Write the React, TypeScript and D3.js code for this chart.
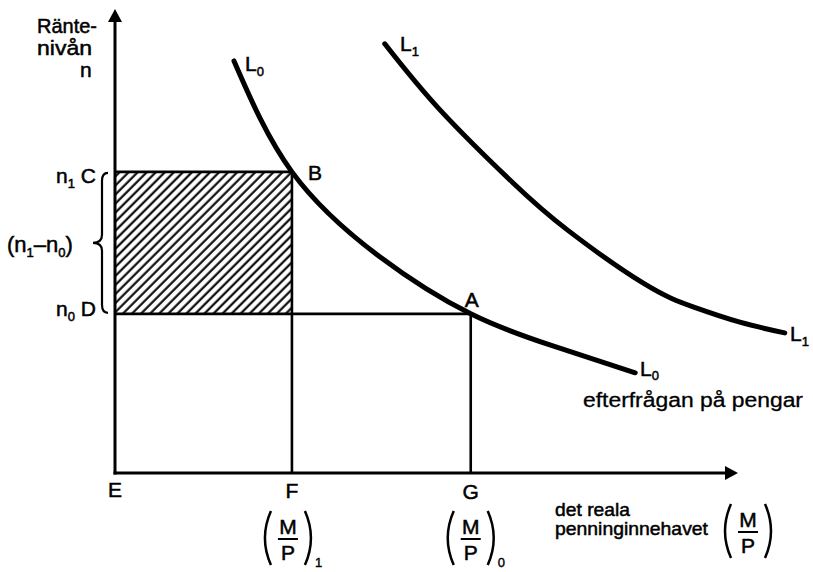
import React from 'react';
import * as d3 from 'd3';

// demand for money curves (x = M/P, y = interest level n)
const L0_CURVE: [number, number][] = [
  [1.91, 8.88], [2.84, 6.49], [4.25, 4.66], [5.71, 3.43], [6.98, 2.76], [8.35, 2.16],
];
const L1_CURVE: [number, number][] = [
  [4.33, 9.25], [5.22, 7.82], [6.39, 6.25], [7.26, 5.24], [8.48, 4.09],
  [9.28, 3.58], [10.03, 3.25], [10.75, 3.02],
];
// interest levels and money holdings
const RATE_LEVELS = { n1: 6.49, n0: 3.43 };
const MONEY_LEVELS = { F: 2.84, G: 5.71 };
const Y_TITLE = ['Ränte-', 'nivån'];
const X_TITLE = ['det reala', 'penninginnehavet'];

const W = 813;
const H = 572;
const FONT = '"Liberation Sans", Arial, sans-serif';

const x = d3.scaleLinear().domain([0, 10]).range([115, 738]);
const y = d3.scaleLinear().domain([0, 10]).range([473, 9]);

const line = d3.line<[number, number]>()
  .x(d => x(d[0]))
  .y(d => y(d[1]))
  .curve(d3.curveNatural);

const Sub = ({ children, dy = 5 }: { children: React.ReactNode; dy?: number }) => (
  <tspan fontSize={13} dy={dy}>{children}</tspan>
);

// (M/P) with tall round brackets, centred on cx
const Fraction = ({ cx, top, sub }: { cx: number; top: number; sub?: string }) => {
  const h = 54;
  const half = 25;
  return (
    <g>
      <path d={`M${cx - half + 8},${top} Q${cx - half - 4},${top + h / 2} ${cx - half + 8},${top + h}`}
        fill="none" stroke="#000" strokeWidth={2.5} />
      <path d={`M${cx + half - 8},${top} Q${cx + half + 4},${top + h / 2} ${cx + half - 8},${top + h}`}
        fill="none" stroke="#000" strokeWidth={2.5} />
      <text x={cx} y={top + 23} textAnchor="middle" fontSize={21} fontFamily={FONT} stroke="#000" strokeWidth={0.5}>M</text>
      <line x1={cx - 10} x2={cx + 10} y1={top + 28} y2={top + 28} stroke="#000" strokeWidth={2} />
      <text x={cx} y={top + 49} textAnchor="middle" fontSize={21} fontFamily={FONT} stroke="#000" strokeWidth={0.5}>P</text>
      {sub && (
        <text x={cx + half + 2} y={top + h + 2} fontSize={13} fontFamily={FONT} stroke="#000" strokeWidth={0.4}>{sub}</text>
      )}
    </g>
  );
};

export default function App() {
  const x0 = x(0);
  const yBase = y(0);
  const yN1 = y(RATE_LEVELS.n1);
  const yN0 = y(RATE_LEVELS.n0);
  const xF = x(MONEY_LEVELS.F);
  const xG = x(MONEY_LEVELS.G);
  const yTop = y(10);
  const xEnd = x(10);
  const mid = (yN1 + yN0) / 2;

  const brace = `M${x0 - 7},${yN1 + 1} Q${x0 - 13},${yN1 + 1} ${x0 - 13},${yN1 + 9} L${x0 - 13},${mid - 8}
    Q${x0 - 13},${mid} ${x0 - 22},${mid} Q${x0 - 13},${mid} ${x0 - 13},${mid + 8}
    L${x0 - 13},${yN0 - 9} Q${x0 - 13},${yN0 - 1} ${x0 - 7},${yN0 - 1}`;

  return (
    <svg width={W} height={H} style={{ position: 'absolute', left: 0, top: 0, background: '#fff' }}>
      <defs>
        <pattern id="hatch" width={6.4} height={10} patternUnits="userSpaceOnUse" patternTransform="rotate(45)">
          <line x1={1.5} y1={0} x2={1.5} y2={10} stroke="#000" strokeWidth={2.1} />
        </pattern>
      </defs>

      {/* hatched area */}
      <rect x={x0} y={yN1} width={xF - x0} height={yN0 - yN1} fill="url(#hatch)" />

      {/* guide lines */}
      <g stroke="#000" strokeWidth={2.6}>
        <line x1={x0} x2={xF} y1={yN1} y2={yN1} />
        <line x1={x0} x2={xG} y1={yN0} y2={yN0} />
        <line x1={xF} x2={xF} y1={yN1} y2={yBase} />
        <line x1={xG} x2={xG} y1={yN0} y2={yBase} />
      </g>

      {/* axes */}
      <g stroke="#000" strokeWidth={3}>
        <line x1={x0} x2={x0} y1={yBase + 1.5} y2={yTop + 8} />
        <line x1={x0 - 1.5} x2={xEnd - 8} y1={yBase} y2={yBase} />
      </g>
      <path d={`M${x0},${yTop} L${x0 - 7},${yTop + 13} L${x0 + 7},${yTop + 13} Z`} fill="#000" />
      <path d={`M${xEnd},${yBase} L${xEnd - 13},${yBase - 7} L${xEnd - 13},${yBase + 7} Z`} fill="#000" />

      {/* curves */}
      <path d={line(L0_CURVE) ?? ''} fill="none" stroke="#000" strokeWidth={5} strokeLinecap="round" />
      <path d={line(L1_CURVE) ?? ''} fill="none" stroke="#000" strokeWidth={5} strokeLinecap="round" />

      {/* brace */}
      <path d={brace} fill="none" stroke="#000" strokeWidth={2.2} />

      <g fontFamily={FONT} fontSize={21} fill="#000" stroke="#000" strokeWidth={0.5}>
        <text x={37} y={33} textLength={60} lengthAdjust="spacingAndGlyphs">{Y_TITLE[0]}</text>
        <text x={37} y={55} textLength={55} lengthAdjust="spacingAndGlyphs">{Y_TITLE[1]}</text>
        <text x={80} y={77}>n</text>

        <text x={96} y={yN1 + 11} textAnchor="end">n<Sub>1</Sub><tspan dy={-5}> C</tspan></text>
        <text x={7} y={mid + 9} fontSize={22}>(n<Sub>1</Sub><tspan dy={-5}>–n</tspan><Sub>0</Sub><tspan dy={-5}>)</tspan></text>
        <text x={96} y={yN0 + 2} textAnchor="end">n<Sub>0</Sub><tspan dy={-5}> D</tspan></text>

        <text x={xF + 16} y={yN1 + 8}>B</text>
        <text x={xG - 6} y={yN0 - 7}>A</text>

        <text x={245} y={71}>L<Sub>0</Sub></text>
        <text x={400} y={51}>L<Sub>1</Sub></text>
        <text x={790} y={341}>L<Sub>1</Sub></text>
        <text x={640} y={376}>L<Sub dy={4}>0</Sub></text>
        <text x={583} y={407} fontSize={20} strokeWidth={0.3} textLength={220} lengthAdjust="spacingAndGlyphs">efterfrågan på pengar</text>

        <text x={x0} y={497} textAnchor="middle">E</text>
        <text x={xF} y={498} textAnchor="middle">F</text>
        <text x={xG} y={499} textAnchor="middle">G</text>

        <text x={555} y={516} fontSize={19} textLength={75} lengthAdjust="spacingAndGlyphs">{X_TITLE[0]}</text>
        <text x={555} y={535} fontSize={19} textLength={153} lengthAdjust="spacingAndGlyphs">{X_TITLE[1]}</text>
      </g>

      <Fraction cx={xF - 4} top={511} sub="1" />
      <Fraction cx={xG} top={511} sub="0" />
      <Fraction cx={748} top={504} />
    </svg>
  );
}
